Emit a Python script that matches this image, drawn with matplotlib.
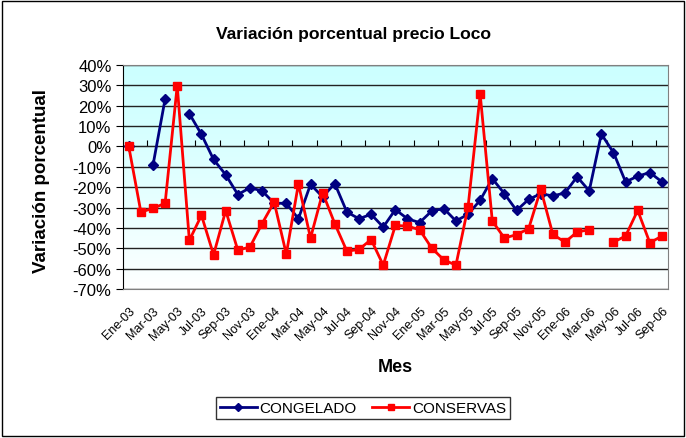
import matplotlib.pyplot as plt
import numpy as np
from matplotlib.lines import Line2D
from matplotlib.patches import Rectangle

plt.rcParams['font.family'] = ['Liberation Sans', 'DejaVu Sans']

meses = ['Ene', 'Feb', 'Mar', 'Abr', 'May', 'Jun', 'Jul', 'Ago', 'Sep', 'Oct', 'Nov', 'Dic']
anios = ['03', '04', '05', '06']
fechas = [m + '-' + a for a in anios for m in meses][:45]   # Ene-03 .. Sep-06

nan = np.nan
congelado = [0, nan, -9.2, 23.3, nan, 16.1, 5.9, -6.4, -13.9, -23.6,
             -20.3, -21.8, -27.9, -27.9, -35.5, -18.6, -24.8, -18.2, -32.2, -35.5,
             -33.3, -39.6, -31.0, -35.5, -37.4, -31.7, -30.5, -36.6, -33.3, -26.4,
             -15.8, -23.2, -31.4, -26.0, -23.2, -24.3, -22.8, -14.9, -21.8, 6.1,
             -3.0, -17.4, -14.6, -12.8, -17.4]
conservas = [0, -32.2, -30.4, -27.9, 29.9, -46.1, -33.8, -53.2, -31.5, -50.9,
             -49.4, -37.9, -27.3, -52.9, -18.4, -45.0, -22.7, -37.9, -51.4, -50.6,
             -45.7, -58.3, -38.8, -39.1, -40.9, -49.9, -55.7, -58.3, -29.7, 25.6,
             -36.6, -45.0, -43.3, -40.4, -21.0, -43.2, -47.0, -42.0, -40.9, nan,
             -47.0, -44.0, -31.4, -47.3, -44.0]

x = np.arange(len(fechas))

fig = plt.figure(figsize=(6.86, 4.39), dpi=100)
ax = fig.add_axes([122.7 / 686, 149 / 439, 545.3 / 686, 224 / 439])

# degradado del fondo del area de trazado
grad = np.linspace(0, 1, 256).reshape(-1, 1)
top = np.array([0.80, 1.0, 1.0])
bot = np.array([1.0, 1.0, 1.0])
img = top + (bot - top) * grad[..., None] ** 1.3
ax.imshow(img, extent=[0, 1, 0, 1], transform=ax.transAxes, aspect='auto', zorder=0)

ax.plot(x, congelado, color='#000080', marker='D', markersize=5, lw=2, zorder=3)
ax.plot(x, conservas, color='#FF0000', marker='s', markersize=5.5, lw=2, zorder=4)

ax.set_xlim(-0.5, len(fechas) - 0.5)
ax.set_ylim(-70, 40)
yt = np.arange(-70, 41, 10)
ax.set_yticks(yt)
ax.set_yticklabels([f'{v}%' for v in yt], fontsize=12)
ax.yaxis.grid(True, color='#222222', lw=1)
ax.set_axisbelow(True)
ax.tick_params(axis='y', length=5, direction='out', color='black', pad=3)

ax.set_xticks(x[::2])
ax.set_xticklabels(fechas[::2], rotation=45, ha='right', va='top',
                   rotation_mode='anchor', fontsize=9)
ax.tick_params(axis='x', length=0, pad=11)

for s in ['top', 'right', 'bottom']:
    ax.spines[s].set_color('#808080')
ax.spines['left'].set_color('black')

# eje de categorias cruzando en 0%
eje0 = ax.secondary_xaxis(70 / 110)
eje0.set_xticks(np.arange(1.5, len(fechas), 2))
eje0.set_xticklabels([])
eje0.tick_params(axis='x', length=4, direction='out', color='black')
eje0.spines['bottom'].set_color('black')

fig.text(353 / 686, 1 - 35 / 439, 'Variación porcentual precio Loco',
         ha='center', va='center', fontsize=12.6, fontweight='bold')
fig.text(42 / 686, 1 - 181 / 439, 'Variación porcentual', rotation=90,
         ha='center', va='center', fontsize=13.5, fontweight='bold')
fig.text(395 / 686, 1 - 367 / 439, 'Mes', ha='center', va='center',
         fontsize=13, fontweight='bold')

handles = [Line2D([], [], color='#000080', marker='D', markersize=4.5, lw=2),
           Line2D([], [], color='#FF0000', marker='s', markersize=5, lw=2)]
leg = fig.legend(handles, ['CONGELADO', 'CONSERVAS'], loc='center',
                 bbox_to_anchor=(363 / 686, 1 - 409 / 439), ncol=2, fontsize=11,
                 frameon=True, fancybox=False, edgecolor='black',
                 handlelength=2.4, handletextpad=0.2, columnspacing=1.0,
                 borderpad=0.25, borderaxespad=0)
leg.get_frame().set_linewidth(1)

fig.patches.append(Rectangle((2 / 686, 2 / 439), 682 / 686, 435 / 439,
                             transform=fig.transFigure, fill=False,
                             edgecolor='black', lw=1))

fig.savefig('out.png', dpi=100)
